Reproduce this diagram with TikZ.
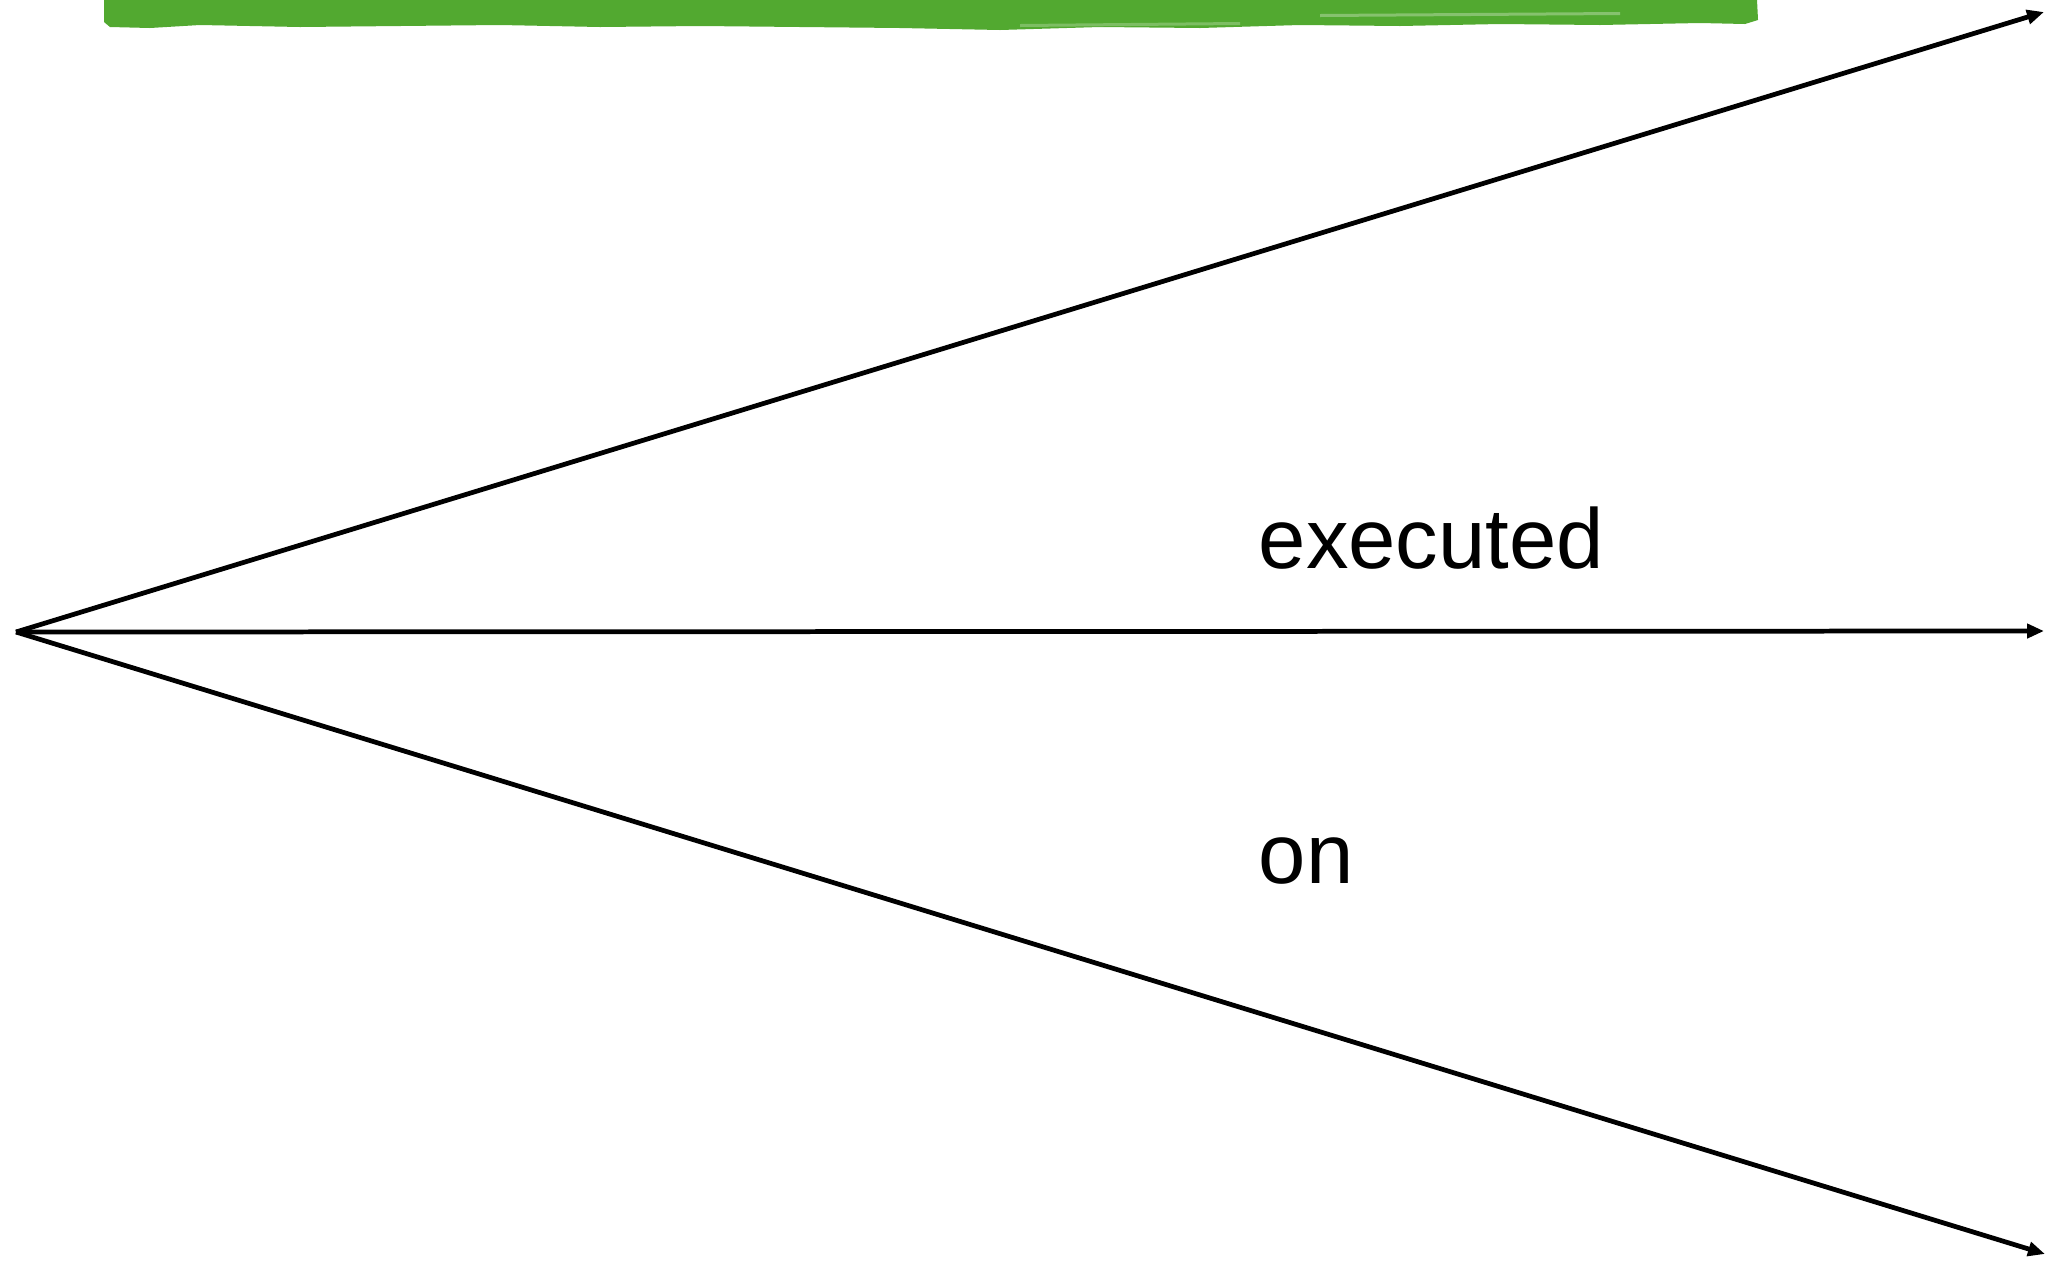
\documentclass[tikz,border=0pt]{standalone}
\usepackage{fontspec}
\setmainfont{Liberation Sans}
\usetikzlibrary{arrows.meta}
\definecolor{brush}{RGB}{82,169,48}
\begin{document}
\begin{tikzpicture}[x=0.01cm,y=-0.01cm,
  ray/.style={line width=1.35pt,-{Triangle[length=0.17cm,width=0.14cm]}},
  lbl/.style={anchor=base west,inner sep=0pt,font=\fontsize{24.2pt}{29pt}\selectfont}]
\useasboundingbox (0,0) rectangle (2049,1263);
% brush stroke along the top edge
\fill[brush] (104,0) -- (1757,0) -- (1758,20) -- (1745,24) -- (1700,23) -- (1600,25)
  -- (1500,24) -- (1400,26) -- (1300,25) -- (1200,28) -- (1100,27) -- (1000,30)
  -- (900,28) -- (800,27) -- (700,26) -- (600,27) -- (500,25) -- (400,26)
  -- (300,27) -- (200,25) -- (150,28) -- (110,27) -- (104,22) -- cycle;
\fill[white,opacity=0.3] (1320,14) -- (1620,12) -- (1620,15) -- (1320,17) -- cycle;
\fill[white,opacity=0.25] (1020,24) -- (1240,22) -- (1240,25) -- (1020,27) -- cycle;
% fan of arrows
\coordinate (o) at (16,632);
\coordinate (up) at (2044,12);
\coordinate (mid) at (2044,631);
\coordinate (down) at (2045,1254);
\draw[ray] (o) -- (up);
\draw[ray] (o) -- (mid);
\draw[ray] (o) -- (down);
\node[lbl] (executed) at (1258,568) {executed};
\node[lbl] (on) at (1258,883) {on};
\end{tikzpicture}
\end{document}
